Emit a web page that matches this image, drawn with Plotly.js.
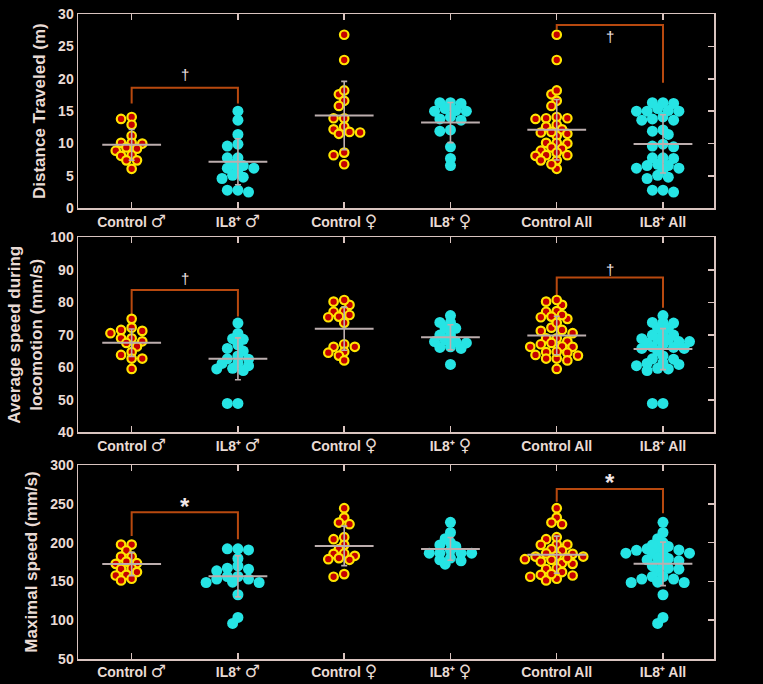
<!DOCTYPE html>
<html>
<head>
<meta charset="utf-8">
<script src="https://cdn.plot.ly/plotly-3.0.1.min.js"></script>
<style>html,body{margin:0;padding:0;background:#000;}#chart{width:763px;height:684px;}</style>
</head>
<body>
<div id="chart"></div>
<script>
// ---------------- DATA ----------------
const G = '<span style="font-family:DejaVu Sans;font-weight:normal;font-size:17px">';
const categories = ['Control ' + G + '\u2642</span>', 'IL8\u207A ' + G + '\u2642</span>', 'Control ' + G + '\u2640</span>', 'IL8\u207A ' + G + '\u2640</span>', 'Control All', 'IL8\u207A All'];

// Distance Traveled (m)
const distControlMale   = [14.1, 13.8, 12.9, 11.2, 10.1, 10.1, 10.0, 9.4, 9.2, 8.9, 8.2, 8.1, 7.4, 7.4, 6.1];
const distIL8Male       = [15.0, 13.6, 11.4, 9.9, 9.6, 7.8, 7.8, 6.8, 6.6, 6.0, 6.2, 6.2, 4.8, 5.1, 4.6, 2.8, 2.8, 2.5];
const distControlFemale = [26.8, 22.9, 17.6, 18.2, 16.6, 15.8, 13.9, 13.9, 12.6, 12.2, 11.7, 11.8, 11.5, 8.6, 8.2, 6.8];
const distIL8Female     = [16.3, 16.3, 16.2, 15.4, 15.1, 15.0, 15.0, 14.1, 13.8, 13.6, 12.1, 11.9, 9.5, 7.7, 6.6];

// Average speed during locomotion (mm/s)
const avgControlMale   = [74.9, 72.2, 71.5, 71.2, 70.5, 68.9, 68.9, 68.0, 66.4, 64.7, 63.8, 62.7, 62.7, 59.5, 67.5];
const avgIL8Male       = [73.6, 70.4, 68.8, 68.6, 66.9, 65.8, 65.0, 63.5, 62.6, 62.5, 61.4, 61.2, 60.5, 59.7, 59.5, 59.0, 48.9, 48.9];
const avgControlFemale = [79.2, 80.2, 80.7, 77.3, 77.1, 76.1, 75.6, 75.4, 73.7, 67.1, 66.3, 66.3, 64.5, 64.8, 63.6, 62.1];
const avgIL8Female     = [75.9, 73.8, 73.8, 72.0, 72.0, 68.5, 69.9, 69.9, 67.5, 67.9, 67.9, 66.3, 66.1, 65.8, 60.9];

// Maximal speed (mm/s)
const maxControlMale   = [197.5, 197.5, 189.8, 182, 182, 175.6, 172.6, 173.5, 166, 167, 162, 158.5, 157.6, 153.4, 151.2];
const maxIL8Male       = [192, 192, 190.6, 179.5, 170, 165.8, 167, 163.6, 156.3, 156.3, 153, 153, 148.6, 148.6, 149, 132.8, 103.6, 95.9];
const maxControlFemale = [244.3, 232.2, 225.8, 223.7, 207, 204.4, 197.1, 191.5, 185.5, 183, 178.6, 177.8, 186, 180, 159.4, 156];
const maxIL8Female     = [226.2, 213, 205, 197, 195, 190, 186.4, 186.4, 186.4, 186.4, 180, 177.8, 176.5, 172.2, 200];

// significance brackets: [left category, right category, top value, left leg end, right leg end, label, label value]
const distBrackets = [[0, 1, 18.6, 16.2, 16.2, '\u2020', 20.6], [4, 5, 28.3, 27.6, 19.4, '\u2020', 26.6]];
const avgBrackets  = [[0, 1, 83.8, 75.6, 75.6, '\u2020', 87.2], [4, 5, 87.6, 81.7, 78.3, '\u2020', 90.2]];
const maxBrackets  = [[0, 1, 239.1, 208.6, 204.4, '*', 247], [4, 5, 269, 252.8, 237.8, '*', 277]];

// ---------------- STYLE / LAYOUT CONSTANTS ----------------
const W = 763, H = 684;
const M = {l: 78, r: 49, t: 14, b: 25};
const plotW = W - M.l - M.r, plotH = H - M.t - M.b;
const frameColor = '#d9c4bf';
const textColor = '#eadbd5';
const statColor = '#bcaeae';
const bracketColor = '#b8490f';
const ctrlFill = '#c40000', ctrlLine = '#ffe400';
const il8Fill = '#26e4e4';
const font = 'Liberation Sans, Arial, sans-serif';
const xRange = [-0.505, 5.48];
const catPx = plotW / (xRange[1] - xRange[0]);

function yDom(topPx, botPx) { return [1 - (botPx - M.t) / plotH, 1 - (topPx - M.t) / plotH]; }

const panels = [
  {groups: [distControlMale, distIL8Male, distControlFemale, distIL8Female, distControlMale.concat(distControlFemale), distIL8Male.concat(distIL8Female)],
   range: [0, 30], dtick: 5, dom: yDom(14, 208.3), title: 'Distance Traveled (m)', brackets: distBrackets, standoff: 8},
  {groups: [avgControlMale, avgIL8Male, avgControlFemale, avgIL8Female, avgControlMale.concat(avgControlFemale), avgIL8Male.concat(avgIL8Female)],
   range: [40, 100], dtick: 10, dom: yDom(237.3, 432.3), title: 'Average speed during<br>locomotion (mm/s)', brackets: avgBrackets, standoff: 3},
  {groups: [maxControlMale, maxIL8Male, maxControlFemale, maxIL8Female, maxControlMale.concat(maxControlFemale), maxIL8Male.concat(maxIL8Female)],
   range: [50, 300], dtick: 50, dom: yDom(465, 659), title: 'Maximal speed (mm/s)', brackets: maxBrackets, standoff: 8}
];

// simple beeswarm: offsets computed in pixel space
function swarm(vals, pxPerUnitY) {
  const step = 5.3, dmin = 6.5;
  const idx = vals.map((v, i) => i).sort((a, b) => vals[b] - vals[a]);
  const placed = [];
  const offs = new Array(vals.length).fill(0);
  idx.forEach(i => {
    const yp = vals[i] * pxPerUnitY;
    for (let k = 0; k < 40; k++) {
      const m = k === 0 ? 0 : (k % 2 ? -Math.ceil(k / 2) : Math.ceil(k / 2));
      const xp = m * step;
      const ok = placed.every(p => Math.hypot(p[0] - xp, p[1] - yp) >= dmin);
      if (ok) { placed.push([xp, yp]); offs[i] = xp / catPx; break; }
    }
  });
  return offs;
}
function mean(a) { return a.reduce((s, v) => s + v, 0) / a.length; }
function sd(a) { const m = mean(a); return Math.sqrt(a.reduce((s, v) => s + (v - m) * (v - m), 0) / (a.length - 1)); }

const traces = [];
const layout = {
  width: W, height: H, margin: M,
  paper_bgcolor: '#000', plot_bgcolor: '#000',
  showlegend: false,
  font: {family: font, color: textColor, size: 14, weight: 'bold'},
  annotations: []
};

panels.forEach((p, pi) => {
  const n = pi + 1;
  const xa = 'x' + (n === 1 ? '' : n), ya = 'y' + (n === 1 ? '' : n);
  const xk = 'xaxis' + (n === 1 ? '' : n), yk = 'yaxis' + (n === 1 ? '' : n);
  const ovk = 'yaxis' + (n + 3), ovName = 'y' + (n + 3);
  const pxPerUnitY = (p.dom[1] - p.dom[0]) * plotH / (p.range[1] - p.range[0]);

  // brackets
  p.brackets.forEach(b => {
    traces.push({type: 'scatter', mode: 'lines', xaxis: xa, yaxis: ya, hoverinfo: 'skip',
      x: [b[0], b[0], b[1], b[1]], y: [b[3], b[2], b[2], b[4]],
      line: {color: bracketColor, width: 2}});
    layout.annotations.push({xref: xa, yref: ya, x: (b[0] + b[1]) / 2, y: b[6], text: b[5], showarrow: false,
      font: {family: font, size: b[5] === '*' ? 24 : 15, color: '#f0e6e6', weight: b[5] === '*' ? 'bold' : 'normal'}});
  });

  // points
  p.groups.forEach((g, gi) => {
    const offs = swarm(g, pxPerUnitY);
    const isCtrl = gi % 2 === 0;
    traces.push({type: 'scatter', mode: 'markers', xaxis: xa, yaxis: ya, hoverinfo: 'y',
      x: g.map((v, i) => gi + offs[i]), y: g,
      marker: isCtrl ? {size: 8.5, color: ctrlFill, line: {color: ctrlLine, width: 2.2}}
                     : {size: 11, color: il8Fill, line: {width: 0}}});
  });
  // mean +/- SD
  p.groups.forEach((g, gi) => {
    traces.push({type: 'scatter', mode: 'markers', xaxis: xa, yaxis: ya, hoverinfo: 'y',
      x: [gi], y: [mean(g)],
      marker: {symbol: 'line-ew', size: 42, color: statColor, line: {color: statColor, width: 2}},
      error_y: {type: 'data', array: [sd(g)], color: statColor, thickness: 1.6, width: 3}});
  });

  layout[xk] = {domain: [0, 1], range: xRange, anchor: ya, tickvals: [0, 1, 2, 3, 4, 5], ticktext: categories,
    ticks: 'inside', ticklen: 6, tickwidth: 1.5, tickcolor: frameColor, mirror: 'ticks',
    showline: true, linecolor: frameColor, linewidth: 1.5, showgrid: false, zeroline: false,
    tickfont: {family: font, size: 14, color: textColor, weight: 'bold'}, fixedrange: true};
  layout[yk] = {domain: p.dom, range: p.range, dtick: p.dtick, anchor: xa,
    ticks: '', showline: true, linecolor: frameColor, linewidth: 1.5, mirror: true,
    showgrid: false, zeroline: false,
    tickfont: {family: font, size: 14, color: textColor, weight: 'bold'},
    title: {text: p.title, standoff: p.standoff, font: {family: font, size: 17, color: textColor, weight: 'bold'}}};
  layout[ovk] = {domain: p.dom, range: p.range, dtick: p.dtick, overlaying: ya, side: 'right', anchor: xa,
    ticks: 'inside', ticklen: 6, tickwidth: 1.5, tickcolor: frameColor, showticklabels: false,
    showline: false, showgrid: false, zeroline: false};
  traces.push({type: 'scatter', mode: 'markers', xaxis: xa, yaxis: ovName, x: [], y: [], hoverinfo: 'skip'});
});

Plotly.newPlot('chart', traces, layout, {displayModeBar: false, staticPlot: true});
</script>
</body>
</html>
